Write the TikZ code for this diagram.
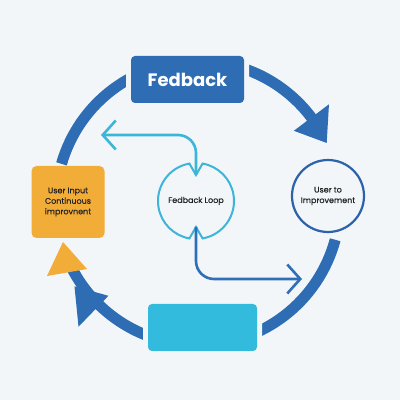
\documentclass[tikz,border=0pt]{standalone}
\usepackage{fontspec}
\setmainfont{Poppins}
\newfontfamily\medfont{Poppins}[FakeBold=0.4]
\usetikzlibrary{arrows.meta}
\definecolor{bgc}{HTML}{F2F6F9}
\definecolor{ringc}{HTML}{2E6DB4}
\definecolor{orangec}{HTML}{F2AC38}
\definecolor{cyanc}{HTML}{33BBDD}
\definecolor{lightb}{HTML}{3DB5D8}
\definecolor{midb}{HTML}{2F6FB8}
\definecolor{circb}{HTML}{2B62AA}
\definecolor{txtc}{HTML}{222222}
\tikzset{
  ring/.style={draw=ringc, line width=11pt},
  halo/.style={preaction={draw=bgc, line width=10pt}},
  smalltxt/.style={font=\medfont\fontsize{8}{10.5}\selectfont, text=txtc, align=center},
  thinarrow/.style={line width=2.6pt, rounded corners=18pt, -{Straight Barb[length=13pt,width=29pt,line width=2.6pt]}}
}
\begin{document}
\begin{tikzpicture}[x=1pt,y=1pt]
\fill[bgc] (0,0) rectangle (400,400);
\useasboundingbox (0,0) rectangle (400,400);
\coordinate (c) at (198,197);
% ring arcs
\begin{scope}[shift={(198,197)}]
  \draw[ring] (90:142) arc[start angle=90, end angle=164, radius=142];
  \draw[ring] (90:142) arc[start angle=90, end angle=35, radius=142];
  \fill[ringc] (37:120) -- (37:164) -- (25:142) -- cycle;
  \draw[ring] (-15:142) arc[start angle=-15, end angle=-90, radius=142];
  \draw[ring] (-90:142) arc[start angle=-90, end angle=-153, radius=142];
  \fill[ringc] (-134:129) -- (-134:172) -- (-146:149) -- cycle;
\end{scope}
% orange triangle
\fill[orangec] (47,124) -- (63,158) -- (87,131) -- cycle;
% boxes
\node[halo, fill=ringc, rounded corners=4pt, minimum width=113pt, minimum height=47pt, inner sep=0pt,
  text=white, font=\fontsize{18}{20}\selectfont\bfseries] (fb) at (187.5,320.5) {Fedback};
\node[fill=orangec, rounded corners=5pt, minimum width=73pt, minimum height=72pt, inner sep=0pt,
  smalltxt] (ui) at (68,198) {User Input\\Continuous\\improvnent};
\node[halo, fill=cyanc, rounded corners=4pt, minimum width=109pt, minimum height=47pt, inner sep=0pt] (cb) at (202.5,72.5) {};
% user to improvement circle
\node[draw=circb, line width=2.2pt, circle, minimum size=72pt, inner sep=0pt, smalltxt] (ut) at (328,204) {User to\\Improvement};
% feedback loop notched circle
\begin{scope}[shift={(196,199)}]
  \draw[lightb, line width=2pt, line join=miter]
    (100:38) arc[start angle=100, end angle=260, radius=38] -- (0,-26) coordinate (flbot)
    -- (280:38) arc[start angle=280, end angle=440, radius=38] -- (0,26) coordinate (fltop) -- cycle;
\end{scope}
\node[smalltxt] (fl) at (196,199) {Fedback Loop};
\coordinate (lbend) at (101,265);
\coordinate (dbend) at (302,121);
\draw[lightb, thinarrow] (fltop) |- (lbend);
\draw[midb, thinarrow] (flbot) |- (dbend);
\end{tikzpicture}
\end{document}
